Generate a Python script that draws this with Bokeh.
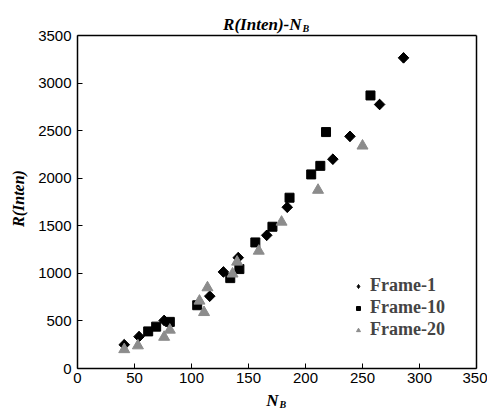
import math
from bokeh.plotting import figure
from bokeh.models import Range1d, Label, Legend, LegendItem, FixedTicker, LinearAxis
from bokeh.embed import file_html
from bokeh.resources import INLINE

# Frame-1 (diamonds)
f1_x = [41, 54, 76, 116, 128, 141, 166, 184, 224, 239, 265, 286]
f1_y = [250, 335, 505, 760, 1015, 1165, 1400, 1695, 2200, 2440, 2775, 3265]
# Frame-10 (squares)
f10_x = [62, 69, 81, 105, 134, 142, 156, 171, 186, 205, 213, 218, 257]
f10_y = [390, 440, 490, 665, 950, 1045, 1325, 1490, 1795, 2040, 2130, 2485, 2870]
# Frame-20 (triangles)
f20_x = [41, 53, 76, 81, 107, 111, 114, 136, 140, 159, 179, 211, 250]
f20_y = [200, 240, 330, 405, 710, 590, 850, 995, 1120, 1235, 1540, 1875, 2340]

x_ticks = [0, 50, 100, 150, 200, 250, 300, 350]
y_ticks = [0, 500, 1000, 1500, 2000, 2500, 3000, 3500]
series_names = ["Frame-1", "Frame-10", "Frame-20"]
X_MAX, Y_MAX = 350, 3500

W, H = 487, 410
# plot box in canvas pixels (left, right, top, bottom)
BL, BR, BT, BB = 77, 476, 35, 368
sx = (BR - BL) / X_MAX
sy = (BB - BT) / Y_MAX
x_range = Range1d(-BL / sx, X_MAX + (W - BR) / sx)
y_range = Range1d(-(H - BB) / sy, Y_MAX + BT / sy)

p = figure(width=W, height=H, output_backend="svg", toolbar_location=None,
           x_range=x_range, y_range=y_range, min_border=0,
           x_axis_location=None, y_axis_location=None)
p.background_fill_color = "white"
p.border_fill_color = "white"
p.outline_line_color = None
p.grid.visible = False

def style_axis(ax, labels=True):
    ax.major_tick_in = 5 if labels else 0
    ax.major_tick_out = 0
    ax.minor_tick_in = 0
    ax.minor_tick_out = 0
    ax.axis_line_color = "black"
    ax.axis_line_width = 1.5
    ax.major_tick_line_color = "black"
    ax.major_label_text_font = "Liberation Sans"
    ax.major_label_text_font_size = "15px"
    ax.major_label_text_color = "black"

xa = LinearAxis(fixed_location=0, bounds=(0, X_MAX), ticker=FixedTicker(ticks=x_ticks))
style_axis(xa)
xa.major_label_standoff = 4
p.add_layout(xa, "below")

ya = LinearAxis(fixed_location=0, bounds=(0, Y_MAX), ticker=FixedTicker(ticks=y_ticks))
style_axis(ya)
ya.major_label_standoff = 6
p.add_layout(ya, "left")

ta = LinearAxis(fixed_location=Y_MAX, bounds=(0, X_MAX), ticker=FixedTicker(ticks=[]))
style_axis(ta, labels=False)
p.add_layout(ta, "above")

ra = LinearAxis(fixed_location=X_MAX, bounds=(0, Y_MAX), ticker=FixedTicker(ticks=[]))
style_axis(ra, labels=False)
p.add_layout(ra, "right")

# diamond key glyph (lies fully under the rotated-square markers; used for the legend)
r1_key = p.scatter(f1_x, f1_y, marker="diamond", size=10, color="black")
r1 = p.scatter(f1_x, f1_y, marker="square", angle=math.pi / 4, size=7.5, color="black")
r10 = p.scatter(f10_x, f10_y, marker="square", size=9, color="black")
r20 = p.scatter(f20_x, f20_y, marker="triangle", size=11, color="#8c8c8c")

legend = Legend(items=[LegendItem(label=series_names[0], renderers=[r1_key]),
                       LegendItem(label=series_names[1], renderers=[r10]),
                       LegendItem(label=series_names[2], renderers=[r20])],
                location=(353, H - 340), padding=0, margin=0, spacing=1,
                glyph_width=10, glyph_height=18, label_height=18,
                label_standoff=7, border_line_color=None,
                background_fill_alpha=0,
                label_text_font="Liberation Serif",
                label_text_font_style="bold",
                label_text_font_size="18px")
p.add_layout(legend)

serif = "Liberation Serif"
def lab(cx, cy, text, size, align="left", angle=0, baseline="alphabetic"):
    # cx, cy: canvas pixels from top-left
    p.add_layout(Label(x=cx, y=cy, x_units="canvas", y_units="canvas",
                       text=text, text_font=serif, text_font_style="bold italic",
                       text_font_size=size, text_align=align,
                       text_baseline=baseline, angle=angle,
                       text_color="black"))

# title
lab(301, 24, "R(Inten)-N", "17px", align="right")
lab(302, 28, "B", "10px")
# x label
lab(278, 400, "N", "17px", align="right")
lab(279, 404, "B", "10px")
# y label
lab(18, 198, "R(Inten)", "16px", align="center", angle=math.pi / 2, baseline="middle")

open("out.html", "w").write(file_html(p, INLINE))
